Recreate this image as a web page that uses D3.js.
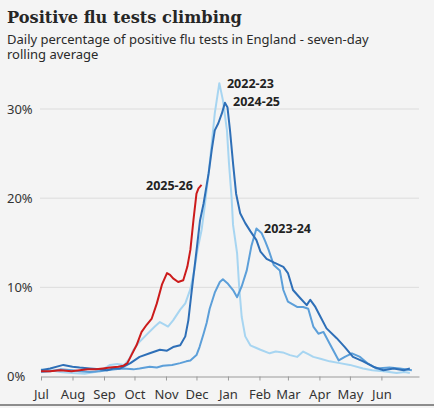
<!DOCTYPE html>
<html lang="en">
<head>
  <meta charset="UTF-8">
  <title>Positive flu tests climbing</title>
  <style>
    body { margin: 0; background: #f4f4f4; }
    .line { fill: none; stroke-width: 2px; stroke-linejoin: round; }
    .title { font-family: "DejaVu Serif", serif; font-weight: bold; font-size: 16.2px; fill: #262626; }
    .subtitle { font-family: "Noto Sans", sans-serif; font-size: 13px; fill: #2a2a2a; }
    .tick text, .ylab { font-family: "Noto Sans", sans-serif; font-size: 13px; fill: #333; }
    .season { font-family: "Noto Sans", sans-serif; font-weight: bold; font-size: 12.5px; fill: #222; }
  </style>
</head>
<body>
  <div id="chart"></div>
  <script src="https://cdn.jsdelivr.net/npm/d3@7"></script>
  <script>
    // days since 1 July, percentage positive (7-day average)
    const days2223 = [0,9,19,30,43,53,61,68,75,82,87,91,97,104,112,117,122,125,130,137,142,147,151,154,158,161,165,168,171,175.5,179,183,185,187.5,189,193,195,197.5,201,206,212,216,225,231,238,245,252,258,263,268,275,284,294,304,317,326,337,350,358,363];
    const vals2223 = [0.8,0.7,0.5,0.4,0.3,0.5,0.8,1.3,1.4,1.3,2.0,3.0,3.9,4.7,5.6,6.1,5.8,5.6,6.3,7.5,8.2,9.8,12.0,14.2,16.4,19.0,22.8,26.1,29.5,32.9,31.0,27.6,23.9,20.2,17.0,13.8,10.1,6.7,4.5,3.5,3.2,3.0,2.6,2.8,2.7,2.4,2.2,2.8,2.5,2.2,2.0,1.7,1.5,1.3,0.9,0.7,0.6,0.4,0.5,0.4];

    const days2324 = [0,9,19,31,38,48,58,65,73,81,91,97,107,114,120,129,137,143,147,153,156,160,163,166,171,176,179,184,189,193,197.5,202.5,207,212,217,220.5,224,229,235,238.5,243,252,258,263,268,273,278,284,293,299,306,314,321,330,343,353,365];
    const vals2324 = [0.5,0.6,0.8,0.7,0.6,0.5,0.6,0.7,0.8,0.9,0.8,0.9,1.1,1.0,1.2,1.3,1.5,1.7,1.8,2.4,3.3,4.8,6.0,7.6,9.4,10.6,10.9,10.4,9.7,8.9,10.1,11.9,14.6,16.6,16.1,15.2,14.2,12.5,11.9,9.7,8.4,7.8,7.8,7.6,5.6,4.8,5.0,3.7,1.8,2.2,2.6,2.2,1.5,0.9,1.0,0.9,0.7];

    const days2425 = [0,9,22,31,38,48,58,65,71,78,88,97,107,117,124,130,137,142,145,148,152,156.5,160,165,168,171,174.5,178,181,183.5,186,189,192,196,201,206,212,216,222,229,238.5,243,248,255,261.5,265,270,275,281,291,299,307,317,327,337,347,357,363];
    const vals2425 = [0.7,0.9,1.3,1.1,1.0,0.9,0.8,0.7,0.9,0.9,1.5,2.2,2.6,3.0,2.9,3.3,3.5,4.5,6.3,9.3,13.1,17.5,19.4,22.8,25.4,27.6,28.4,29.5,30.7,30.2,27.6,23.9,20.5,18.3,17.2,16.3,15.3,14.0,13.2,12.8,12.3,11.6,9.7,8.8,8.0,8.6,7.8,6.7,5.4,4.3,3.3,2.2,1.7,1.1,0.7,0.9,0.7,0.9];

    const days2526 = [0,9,19,30,38,46,54,61,68,76,81,85,89,94,99,104,109,114,119,124,127,130,135,140,144,147,150,153,155,158];
    const vals2526 = [0.6,0.6,0.7,0.6,0.7,0.8,0.8,0.9,1.0,1.1,1.2,1.5,2.4,3.5,5.0,5.8,6.5,8.2,10.3,11.6,11.4,11.0,10.6,10.8,12.3,14.2,17.5,20.5,21.1,21.5];

    const seasons = ["2022-23", "2023-24", "2024-25", "2025-26"];
    const seasonColours = ["#a7d5f1", "#5c9fd9", "#2e6fb7", "#cc1b1b"];
    const yTicks = [0, 10, 20, 30];
    const monthLabels = ["Jul","Aug","Sep","Oct","Nov","Dec","Jan","Feb","Mar","Apr","May","Jun"];

    const W = 434, H = 408;
    const start = new Date(2024, 6, 1);
    const dayToDate = d => new Date(start.getTime() + d * 864e5);

    const svg = d3.select("#chart").append("svg")
      .attr("width", W)
      .attr("height", H);

    svg.append("rect").attr("width", W).attr("height", H).attr("fill", "#f4f4f4");

    // Title and subtitle
    svg.append("text").attr("class", "title").attr("x", 7).attr("y", 23)
      .text("Positive flu tests climbing");
    const sub = svg.append("text").attr("class", "subtitle").attr("x", 7).attr("y", 43.5);
    sub.append("tspan").attr("x", 7).text("Daily percentage of positive flu tests in England - seven-day");
    sub.append("tspan").attr("x", 7).attr("dy", 15).text("rolling average");

    const x = d3.scaleTime()
      .domain([start, new Date(2025, 6, 8)])
      .range([41, 419]);

    const y = d3.scaleLinear()
      .domain([0, 30])
      .range([376.5, 109]);

    // Gridlines + y labels
    svg.selectAll(".grid")
      .data(yTicks.filter(d => d > 0))
      .enter().append("line")
      .attr("x1", 40).attr("x2", 419)
      .attr("y1", d => y(d)).attr("y2", d => y(d))
      .attr("stroke", "#dcdcdc").attr("stroke-width", 1);

    svg.selectAll(".ylab")
      .data(yTicks)
      .enter().append("text")
      .attr("class", "ylab")
      .attr("x", 7)
      .attr("y", d => y(d))
      .attr("dy", "0.35em")
      .text(d => d + "%");

    // X axis
    const monthTicks = monthLabels.map((m, i) => d3.timeMonth.offset(start, i));
    const xAxis = svg.append("g")
      .attr("transform", `translate(0, ${y(0)})`)
      .call(d3.axisBottom(x)
        .tickValues(monthTicks)
        .tickFormat((d, i) => monthLabels[i])
        .tickSize(4)
        .tickSizeOuter(0)
        .tickPadding(9));
    xAxis.select(".domain").attr("stroke", "#9a9a9a").attr("stroke-width", 1.2);
    xAxis.selectAll(".tick line").attr("stroke", "#9a9a9a");

    // Lines
    const line = d3.line()
      .x(d => x(dayToDate(d[0])))
      .y(d => y(d[1]));

    const seriesData = [
      d3.zip(days2223, vals2223),
      d3.zip(days2324, vals2324),
      d3.zip(days2425, vals2425),
      d3.zip(days2526, vals2526)
    ];

    seriesData.forEach((s, i) => {
      svg.append("path")
        .datum(s)
        .attr("class", "line")
        .attr("stroke", seasonColours[i])
        .attr("d", line);
    });

    // Season labels
    const labelPos = [
      { day: 183, val: 32.35, anchor: "start" },
      { day: 219.5, val: 16.1, anchor: "start" },
      { day: 189, val: 30.3, anchor: "start" },
      { day: 149.5, val: 20.9, anchor: "end" }
    ];
    labelPos.forEach((p, i) => {
      svg.append("text")
        .attr("class", "season")
        .attr("x", x(dayToDate(p.day)))
        .attr("y", y(p.val))
        .attr("text-anchor", p.anchor)
        .text(seasons[i]);
    });

    // Bottom rule
    svg.append("line")
      .attr("x1", 0).attr("x2", W)
      .attr("y1", 405).attr("y2", 405)
      .attr("stroke", "#8c8c8c").attr("stroke-width", 2);
  </script>
</body>
</html>
